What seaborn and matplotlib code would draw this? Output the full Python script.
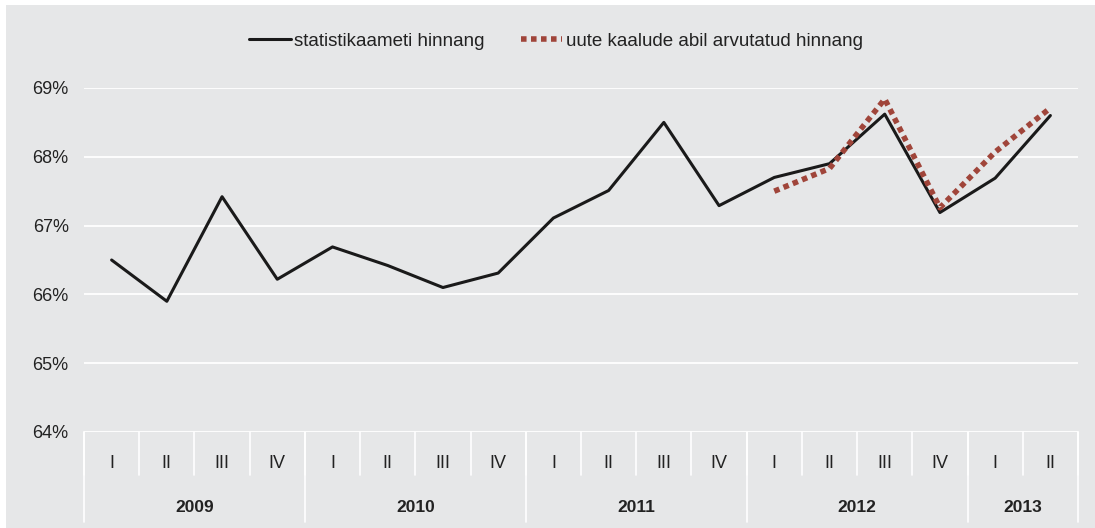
import numpy as np
import pandas as pd
import matplotlib
matplotlib.use("Agg")
import matplotlib.pyplot as plt
import matplotlib.transforms as mtransforms
from matplotlib.patches import Rectangle
import seaborn as sns

years = ["2009", "2010", "2011", "2012", "2013"]
quarters_per_year = [4, 4, 4, 4, 2]
quarter_names = ["I", "II", "III", "IV"]

official = [66.5, 65.9, 67.42, 66.22,
            66.69, 66.42, 66.1, 66.31,
            67.11, 67.51, 68.5, 67.29,
            67.7, 67.9, 68.62, 67.19,
            67.69, 68.6]
new_weights = [67.5, 67.83, 68.84, 67.26, 68.07, 68.71]

label_official = "statistikaameti hinnang"
label_new = "uute kaalude abil arvutatud hinnang"

bg = "#e6e7e8"
red = "#a0453a"
txt = "#222222"

quarter_labels = [quarter_names[i] for n in quarters_per_year for i in range(n)]
n = len(quarter_labels)
df1 = pd.DataFrame({"pos": np.arange(n), "val": official})
df2 = pd.DataFrame({"pos": np.arange(n - len(new_weights), n), "val": new_weights})

sns.set_style("white")
plt.rcParams["font.family"] = ["Liberation Sans", "DejaVu Sans"]

fig = plt.figure(figsize=(10.95, 5.28), dpi=100, facecolor="white")
# gray panel, leaving a thin white margin on the left and top
fig.patches.append(Rectangle((6 / 1095, 0), 1, 1 - 5 / 528, transform=fig.transFigure,
                             facecolor=bg, edgecolor="none", zorder=-10))

ax = fig.add_axes([84 / 1095, 1 - 432 / 528, (1078 - 84) / 1095, (432 - 88) / 528])
ax.set_facecolor(bg)

sns.lineplot(data=df1, x="pos", y="val", ax=ax, color="#1a1a1a", linewidth=2.2, label=label_official)
sns.lineplot(data=df2, x="pos", y="val", ax=ax, color=red, linewidth=4, label=label_new)
ax.lines[-1].set_dashes([1.0, 0.8])

ax.set_xlim(-0.5, n - 0.5)
ax.set_ylim(64, 69)
ax.set_yticks(range(64, 70))
ax.set_yticklabels([f"{v}%" for v in range(64, 70)], fontsize=13, color=txt)
ax.yaxis.grid(True, color="white", linewidth=1.3)
ax.set_axisbelow(True)
ax.tick_params(axis="y", length=0, pad=11)
ax.set_xticks([])
ax.set_xlabel("")
ax.set_ylabel("")
for s in ax.spines.values():
    s.set_visible(False)

# category table below the plot
trans = mtransforms.blended_transform_factory(ax.transData, ax.transAxes)
ax_h = (432 - 88)
for i, lab in enumerate(quarter_labels):
    ax.text(i, -(464 - 432) / ax_h, lab, transform=trans, ha="center", va="center",
            fontsize=13, color=txt)
for i in range(n + 1):
    ax.plot([i - 0.5, i - 0.5], [0, -(475 - 432) / ax_h], transform=trans,
            color="white", linewidth=1.2, clip_on=False)
start = 0
bounds = [-0.5]
for y, q in zip(years, quarters_per_year):
    ax.text(start + (q - 1) / 2, -(508 - 432) / ax_h, y, transform=trans, ha="center",
            va="center", fontsize=12.5, fontweight="bold", color=txt)
    start += q
    bounds.append(start - 0.5)
for b in bounds:
    ax.plot([b, b], [0, -(522 - 432) / ax_h], transform=trans,
            color="white", linewidth=1.2, clip_on=False)

leg = ax.legend(loc="center", bbox_to_anchor=((556 - 84) / 994, (432 - 41) / ax_h),
                bbox_transform=ax.transAxes, ncol=2, frameon=False, fontsize=13.5,
                handlelength=2.2, handletextpad=0.2, columnspacing=1.9)
for t in leg.get_texts():
    t.set_color(txt)

fig.savefig("out.png", dpi=100, facecolor="white")
